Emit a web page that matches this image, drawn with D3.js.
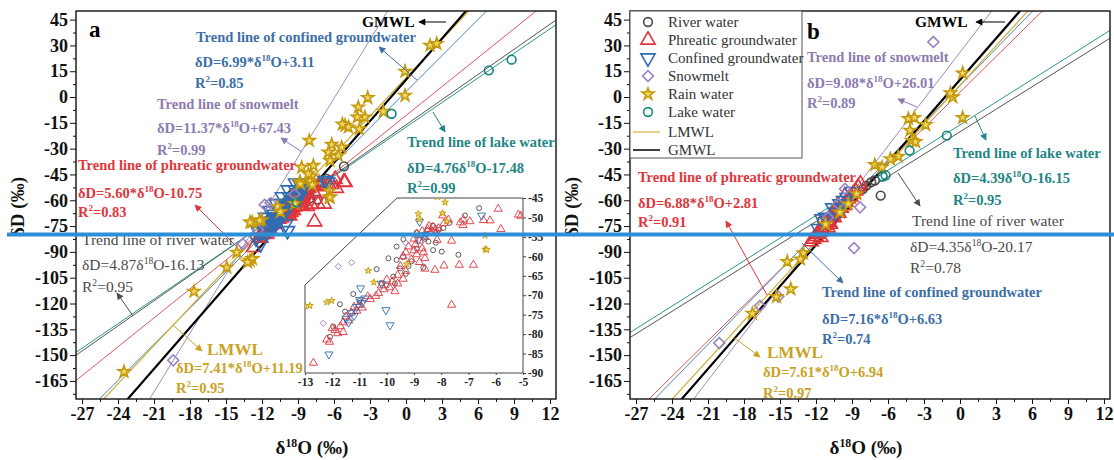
<!DOCTYPE html>
<html>
<head>
<meta charset="utf-8">
<script src="https://d3js.org/d3.v7.min.js"></script>
<style>
body { margin:0; background:#fff; }
svg text { font-family: "Liberation Serif", "Times New Roman", serif; }
</style>
</head>
<body>
<svg id="chart" width="1114" height="460"></svg>
<script>
// ---- tick labels
var xTickValues = [-27, -24, -21, -18, -15, -12, -9, -6, -3, 0, 3, 6, 9, 12];
var yTickValues = [45, 30, 15, 0, -15, -30, -45, -60, -75, -90, -105, -120, -135, -150, -165];
var insetXTicks = [-13, -12, -11, -10, -9, -8, -7, -6, -5];
var insetYTicks = [-45, -50, -55, -60, -65, -70, -75, -80, -85, -90];

// ---- legend
var legendNames = ["River water", "Phreatic groundwater", "Confined groundwater", "Snowmelt", "Rain water", "Lake water", "LMWL", "GMWL"];

// ---- trend lines: river, phreatic, confined, snowmelt, LMWL, lake, GMWL
var slopesA = [4.87, 5.60, 6.99, 11.37, 7.41, 4.76, 8];
var interceptsA = [-16.13, -10.75, 3.11, 67.43, 11.19, -17.48, 10];
var slopesB = [4.35, 6.88, 7.16, 9.08, 7.61, 4.39, 8];
var interceptsB = [-20.17, 2.81, 6.63, 26.01, 6.94, -16.15, 10];

// ---- panel a samples [d18O, dD]
var riverA = [[-6.61,-47.6],[-7.13,-49.5],[-7.7,-51.4],[-8.31,-52.1],[-7.92,-52.7],[-8.1,-53.2],[-8.9,-53.9],[-8.47,-56.2],
  [-8.2,-56.5],[-7.98,-58.8],[-8.3,-58.4],[-7.37,-59.6],[-9.39,-55.6],[-9.64,-57.5],[-9.94,-60.5],[-9.64,-60.9],[-9.51,-63.1],
  [-9.4,-60.2],[-10.37,-63.3],[-8.66,-62.9],[-9.09,-61.3],[-9.76,-65.2],[-10.19,-66.9],[-11.23,-69.7],[-11.72,-72.3],[-11.0,-71.5],
  [-11.96,-78.1],[-12.08,-80.7],[-11.53,-74.2],[-10.0,-67.5],[-9.7,-67],[-9.3,-64.5],[-9.2,-62.5],[-8.9,-58],[-8.6,-55.5],
  [-8.2,-54],[-8.5,-53.3],[-5.17,-40.3]];
var phreaticA = [[-8.3,-52.5],[-8.5,-53],[-8.7,-53.5],[-8.9,-54.2],[-8.4,-54],[-8.2,-53.2],[-8.6,-55],[-9.0,-55.5],[-8.8,-56],
  [-8.1,-52.8],[-8.45,-52.2],[-8.15,-55.8],[-7.74,-50.6],[-7.19,-50.6],[-7.9,-51.5],[-7.95,-49.5],[-7.2,-52],[-6.95,-51],
  [-6.21,-50.8],[-6.45,-50.7],[-5.91,-47.8],[-5.17,-49.3],[-5.81,-53],[-7.62,-56],[-6.82,-62.2],[-7.34,-62.2],[-7.9,-62.4],
  [-8.23,-63.5],[-8.6,-63.2],[-7.62,-72.5],[-7.3,-51.3],[-9.2,-57.5],[-9.0,-58.5],[-8.9,-59.5],[-9.3,-59],[-8.7,-58],
  [-8.6,-60.5],[-9.1,-60.8],[-8.8,-61.5],[-9.4,-60],[-8.95,-57],[-8.65,-59],[-9.5,-62.5],[-9.3,-63.8],[-9.6,-64.8],
  [-10.0,-66],[-9.8,-66.5],[-10.2,-67.5],[-9.9,-68],[-10.1,-68.5],[-9.6,-67],[-9.4,-65.8],[-10.3,-69.5],[-9.7,-69],
  [-10.4,-70.2],[-10.7,-70.3],[-10.6,-71],[-11.0,-72.5],[-11.2,-73],[-11.3,-74.5],[-11.5,-75.5],[-11.4,-76.5],[-11.6,-77],
  [-11.1,-74],[-10.9,-73.2],[-11.7,-78],[-11.9,-79],[-11.8,-79.8],[-12.0,-78.5],[-11.6,-79.5],[-12.2,-81.4],[-12.1,-82],
  [-12.69,-87.4],[-5.08,-49.6]];
var confinedA = [[-6.52,-49.5],[-8.8,-51.1],[-10.96,-68.2],[-10.03,-73.8],[-9.88,-77.7],[-12.12,-85.2],[-11.3,-74.5],
  [-11.1,-73],[-10.9,-72],[-11.0,-71.2],[-11.5,-76],[-11.4,-77],[-10.8,-70.8],[-8.84,-55.7],[-8.6,-54.5],[-10.2,-67],[-11.2,-75.3]];
// dense blue band seen only in the main plot of panel a
var confinedBandA = [[-12.3,-78],[-11.8,-78],[-12.0,-74],[-11.4,-74],[-10.9,-74],[-11.7,-70],[-11.0,-70],[-10.4,-70],
  [-11.3,-66],[-10.6,-66],[-10.0,-66],[-10.8,-62],[-10.2,-62],[-9.6,-62],[-10.3,-58],[-9.7,-58],[-9.2,-58],
  [-9.8,-54],[-9.2,-54],[-8.7,-54],[-9.2,-50],[-8.6,-50],[-12.5,-82],[-6.75,-48.6]];
var snowA = [[-11.78,-62.6],[-11.29,-61.6],[-12.33,-77.2],[-13.6,-85.4],[-19.4,-153],[-9.3,-56.5]];
var rainA = [[-7.86,-46.1],[-8.84,-49.1],[-7.95,-48.9],[-10.68,-63.7],[-12.02,-71.4],[-12.82,-72.7],[-6.39,-54.6],
  [-6.39,-58.2],[-10.47,-66.7],[-9.27,-62],[2.0,30],[2.56,31],[-0.08,14.9],[-0.08,0.9],[-3.19,-0.4],[-3.97,-5.9],
  [-3.42,-11.7],[-4.06,-11.7],[-1.89,-8.4],[-5.08,-16.5],[-4.8,-17.5],[-5.3,-15.8],[-3.89,-18.5],[-8.06,-25.3],[-6.19,-27.6],
  [-5.36,-29.2],[-6.47,-32.1],[-5.64,-34],[-6.33,-36.9],[-7.72,-39.8],[-8.69,-40.8],[-8.14,-44.7],[-6.33,-58.3],
  [-7.8,-51],[-8.8,-50.5],[-13.0,-72.8],[-12.2,-71.8],[-14.1,-90.3],[-14.94,-99],[-17.67,-113],[-23.5,-159.6],
  [-13.0,-95],[-12.8,-94],[-13.2,-96]];
var lakeA = [[8.8,21.7],[6.9,15.5],[-1.2,-9.7],[-9.1,-61.2]];

// ---- panel b samples
var riverB = [[-6.61,-57.3],[-7.4,-49.5],[-7.1,-48.5],[-7.8,-51.5],[-8.1,-53.5],[-11.5,-71.9],[-10.8,-69],[-9.8,-63]];
var phreaticB = [[-12.4,-84],[-12.2,-82.5],[-12.0,-81],[-11.9,-79.6],[-11.7,-78.5],[-11.6,-81.6],[-11.4,-75.7],[-11.2,-74.5],
  [-11.1,-71.9],[-10.9,-72.8],[-10.8,-73.8],[-10.7,-68.9],[-10.5,-70],[-10.3,-66],[-10.1,-67.5],[-9.9,-64.5],[-9.7,-63.1],
  [-9.5,-61],[-9.3,-59.2],[-9.1,-58],[-8.9,-56.3],[-8.7,-54.5],[-8.5,-52.4],[-8.3,-50.5],[-9.6,-57.5],[-10.2,-63],[-11.0,-76]];
var confinedB = [[-11.5,-70.9],[-11.2,-70],[-10.4,-67],[-10.0,-62.1],[-9.7,-60.2],[-9.9,-65],[-10.6,-64.5],[-9.4,-58.5],[-11.8,-76.5],[-9.0,-55]];
var snowB = [[-2.22,32],[-9.58,-53.4],[-8.33,-64.1],[-8.83,-87.8],[-10.14,-62.1],[-20.06,-143],[-16.67,-121.3],[-15.14,-116],[-11.0,-70]];
var rainB = [[0.22,13.9],[-0.6,0],[-0.8,2.3],[-4.3,-12.6],[-3.8,-12],[-2.86,-16.1],[0.22,-12],[-4.17,-19.4],[-4.03,-25.3],
  [-3.7,-26],[-5.14,-34.5],[-5.8,-36],[-7.1,-39.4],[-6.5,-40.8],[-13.06,-90.7],[-13.3,-94.2],[-14.4,-95.7],[-14.1,-111.6],
  [-15.3,-116.1],[-17.3,-125.8],[-9.31,-62.1],[-10.0,-67],[-8.61,-56.3],[-11.2,-74]];
var lakeB = [[-1.1,-22.4],[-4.2,-31.1],[-6.44,-46.2],[-6.2,-45.5]];

// ---- styles
var sty = {
  river:    {type: d3.symbolCircle,   rot: 0,   k: 0.75, fill: "none", stroke: "#4a4a4a"},
  phreatic: {type: d3.symbolTriangle, rot: 0,   k: 1.1,  fill: "none", stroke: "#e2343c"},
  confined: {type: d3.symbolTriangle, rot: 180, k: 1.1,  fill: "none", stroke: "#2f6db3"},
  snow:     {type: d3.symbolSquare,   rot: 45,  k: 0.75, fill: "none", stroke: "#9b82c2"},
  rain:     {type: d3.symbolStar,     rot: 0,   k: 0.55, fill: "#f3d866", stroke: "#c49a0c"},
  lake:     {type: d3.symbolCircle,   rot: 0,   k: 0.75, fill: "none", stroke: "#17877d"}
};
var trendColors = ["#555555", "#e0575b", "#4a86c0", "#9c8cc0", "#cfae32", "#2a968c", "#000000"];
var trendWidths = [1, 1, 1, 1, 1.2, 1, 2.2];
var cConfT = "#3d6fa6", cSnowT = "#8e7bb0", cPhrT = "#e0363c", cLakeT = "#1f8685", cRivT = "#4a4a4a", cLT = "#c9a224";

var svg = d3.select("#chart");
var defs = svg.append("defs");

function marker(id, color) {
  defs.append("marker").attr("id", id)
    .attr("viewBox", "0 0 10 10").attr("refX", 9).attr("refY", 5)
    .attr("markerWidth", 8).attr("markerHeight", 7)
    .attr("markerUnits", "userSpaceOnUse").attr("orient", "auto")
    .append("path").attr("d", "M0,0 L10,5 L0,10 Z").attr("fill", color);
}
var arrowCols = {k: "#000", b: cConfT, p: cSnowT, r: cPhrT, t: cLakeT, g: cRivT, y: cLT};
Object.keys(arrowCols).forEach(function(k) { marker("ar_" + k, arrowCols[k]); });

function richText(g, str, x, y, fs, color, weight, anchor) {
  var t = g.append("text").attr("x", x).attr("y", y).attr("font-size", fs)
    .attr("fill", color).attr("font-weight", weight || "bold")
    .attr("text-anchor", anchor || "start");
  var parts = str.split(/\^(\d+)/);
  var sh = fs * 0.38;
  parts.forEach(function(p, i) {
    if (i % 2 === 1) {
      t.append("tspan").attr("dy", -sh).attr("font-size", fs * 0.62).text(p);
    } else if (p) {
      var s = t.append("tspan").text(p);
      if (i > 0) s.attr("dy", sh);
    }
  });
  return t;
}

function arrow(g, x1, y1, x2, y2, key) {
  g.append("line").attr("x1", x1).attr("y1", y1).attr("x2", x2).attr("y2", y2)
    .attr("stroke", arrowCols[key]).attr("stroke-width", 1)
    .attr("marker-end", "url(#ar_" + key + ")");
}

function drawPoints(g, pts, s, x, y, size, sw) {
  g.selectAll(null).data(pts).enter().append("path")
    .attr("d", d3.symbol().type(s.type).size(size * s.k))
    .attr("transform", function(d) { return "translate(" + x(d[0]) + "," + y(d[1]) + ") rotate(" + s.rot + ")"; })
    .attr("fill", s.fill).attr("stroke", s.stroke).attr("stroke-width", sw);
}

function panel(id, x0, x1, slopes, intercepts, series) {
  var x = d3.scaleLinear().domain([-27.5, 12.5]).range([x0, x1]);
  var y = d3.scaleLinear().domain([-175.5, 50]).range([399, 11]);
  var g = svg.append("g");

  defs.append("clipPath").attr("id", "clip" + id).append("rect")
    .attr("x", x0).attr("y", 11).attr("width", x1 - x0).attr("height", 388);

  var plot = g.append("g").attr("clip-path", "url(#clip" + id + ")");
  // trend lines
  var order = [0, 5, 1, 2, 3, 4, 6];
  order.forEach(function(i) {
    var xs = [-27.5, 12.5];
    plot.append("line")
      .attr("x1", x(xs[0])).attr("y1", y(slopes[i] * xs[0] + intercepts[i]))
      .attr("x2", x(xs[1])).attr("y2", y(slopes[i] * xs[1] + intercepts[i]))
      .attr("stroke", trendColors[i]).attr("stroke-width", trendWidths[i]);
  });
  series.forEach(function(sr) { drawPoints(plot, sr[0], sr[1], x, y, 80, 1.6); });

  // axes
  var yMinor = d3.range(-172.5, 50, 7.5).filter(function(v) { return Math.abs(v % 15) > 0.1; });
  var xMinor = d3.range(-25.5, 12.5, 3);
  g.append("g").attr("transform", "translate(" + x0 + ",0)")
    .call(d3.axisLeft(y).tickValues(yMinor).tickSize(3).tickFormat(""))
    .call(function(a) { a.select(".domain").remove(); });
  g.append("g").attr("transform", "translate(0,399)")
    .call(d3.axisBottom(x).tickValues(xMinor).tickSize(3).tickFormat(""))
    .call(function(a) { a.select(".domain").remove(); });
  var ya = g.append("g").attr("transform", "translate(" + x0 + ",0)")
    .call(d3.axisLeft(y).tickValues(yTickValues).tickSize(6).tickPadding(2).tickFormat(function(d) { return String(d); }));
  var xa = g.append("g").attr("transform", "translate(0,399)")
    .call(d3.axisBottom(x).tickValues(xTickValues).tickSize(5).tickPadding(3).tickFormat(function(d) { return String(d); }));
  [ya, xa].forEach(function(a) {
    a.selectAll("text").attr("font-family", "Liberation Serif").attr("font-size", 18)
      .attr("font-weight", "bold").attr("fill", "#111");
    a.selectAll("line").attr("stroke", "#111");
    a.select(".domain").remove();
  });
  g.selectAll(".tick line").attr("stroke", "#111");
  g.append("rect").attr("x", x0).attr("y", 11).attr("width", x1 - x0).attr("height", 388)
    .attr("fill", "none").attr("stroke", "#111").attr("stroke-width", 1.4);

  // axis titles
  richText(g, "δD (‰)", 0, 0, 19, "#111", "bold", "middle")
    .attr("transform", "translate(" + (x0 - 52) + ",207) rotate(-90)");
  richText(g, "δ^18O (‰)", x(-7.5) - 4, 454, 19, "#111", "bold", "middle");
  return {g: g, x: x, y: y};
}

// ---------- panel a
var pa = panel("a", 76, 556, slopesA, interceptsA, [
  [riverA, sty.river], [phreaticA, sty.phreatic], [confinedA, sty.confined], [confinedBandA, sty.confined],
  [snowA, sty.snow], [rainA, sty.rain], [lakeA, sty.lake]]);
var ga = pa.g;
ga.append("text").attr("x", 89).attr("y", 37).attr("font-size", 23).attr("font-weight", "bold").text("a");

richText(ga, "GMWL", 362, 27, 15.5, "#000");
arrow(ga, 446, 22, 419, 22, "k");
richText(ga, "Trend line of confined groundwater", 196, 42, 14.5, cConfT);
richText(ga, "δD=6.99*δ^18O+3.11", 195, 67, 14.5, cConfT);
richText(ga, "R^2=0.85", 195, 88, 14.5, cConfT);
arrow(ga, 417, 80, 379, 47, "b");
richText(ga, "Trend line of snowmelt", 157, 109, 14.5, cSnowT);
richText(ga, "δD=11.37*δ^18O+67.43", 157, 133, 14.5, cSnowT);
richText(ga, "R^2=0.99", 157, 155, 14.5, cSnowT);
arrow(ga, 302, 152, 281, 138, "p");
richText(ga, "Trend line of phreatic groundwater", 78, 170, 14.5, cPhrT);
richText(ga, "δD=5.60*δ^18O-10.75", 78, 198, 14.5, cPhrT);
richText(ga, "R^2=0.83", 78, 217, 14.5, cPhrT);
arrow(ga, 237, 247, 195, 205, "r");
richText(ga, "Trend line of lake water", 407, 147, 14.5, cLakeT);
richText(ga, "δD=4.76δ^18O-17.48", 407, 173, 14.5, cLakeT);
richText(ga, "R^2=0.99", 407, 193, 14.5, cLakeT);
arrow(ga, 433, 112, 445, 132, "t");
richText(ga, "Trend line of river water", 82, 245, 15.5, cRivT, "normal");
richText(ga, "δD=4.87δ^18O-16.13", 82, 270, 15.5, cRivT, "normal");
richText(ga, "R^2=0.95", 82, 292, 15.5, cRivT, "normal");
arrow(ga, 133, 316, 117, 293, "g");
richText(ga, "LMWL", 207, 355, 17, cLT);
richText(ga, "δD=7.41*δ^18O+11.19", 176, 373, 14.5, cLT);
richText(ga, "R^2=0.95", 176, 393, 14.5, cLT);
arrow(ga, 173, 325, 202, 351, "y");

// inset of panel a
var ix = d3.scaleLinear().domain([-13, -5]).range([305, 523]);
var iy = d3.scaleLinear().domain([-90, -45]).range([373, 198]);
var ins = ga.append("g");
ins.append("path").attr("d", "M305,285 L305,373 L523,373 L523,198 L397,198 Z")
  .attr("fill", "#fff").attr("stroke", "#444").attr("stroke-width", 1);
defs.append("clipPath").attr("id", "clipIn").append("rect").attr("x", 305).attr("y", 198).attr("width", 218).attr("height", 175);
var insPlot = ins.append("g").attr("clip-path", "url(#clipIn)");
[[riverA, sty.river], [phreaticA, sty.phreatic], [confinedA, sty.confined], [snowA, sty.snow], [rainA, sty.rain]]
  .forEach(function(sr) { drawPoints(insPlot, sr[0], sr[1], ix, iy, 26, 0.9); });
var iax = ins.append("g").attr("transform", "translate(0,373)")
  .call(d3.axisBottom(ix).tickValues(insetXTicks).tickSize(2).tickPadding(3).tickFormat(function(d) { return String(d); }));
var iay = ins.append("g").attr("transform", "translate(523,0)")
  .call(d3.axisRight(iy).tickValues(insetYTicks).tickSize(3).tickPadding(2).tickFormat(function(d) { return String(d); }));
[iax, iay].forEach(function(a) {
  a.select(".domain").remove();
  a.selectAll("text").attr("font-family", "Liberation Serif").attr("font-size", 11.5)
    .attr("font-weight", "bold").attr("fill", "#222");
  a.selectAll("line").attr("stroke", "#444");
});

// ---------- panel b
var pb = panel("b", 630, 1110, slopesB, interceptsB, [
  [riverB, sty.river], [phreaticB, sty.phreatic], [confinedB, sty.confined],
  [snowB, sty.snow], [rainB, sty.rain], [lakeB, sty.lake]]);
var gb = pb.g;

// legend
var lg = gb.append("g");
lg.append("rect").attr("x", 630).attr("y", 11).attr("width", 172).attr("height", 147)
  .attr("fill", "#fff").attr("stroke", "#555").attr("stroke-width", 1);
var legStyles = [sty.river, sty.phreatic, sty.confined, sty.snow, sty.rain, sty.lake];
var legY = [22, 40, 58, 76, 94, 112, 132, 150];
legendNames.forEach(function(n, i) {
  if (i < 6) {
    drawPoints(lg, [[648, legY[i]]], legStyles[i], function(v) { return v; }, function(v) { return v; }, 80, 1.6);
  } else {
    lg.append("line").attr("x1", 633).attr("x2", 660).attr("y1", legY[i]).attr("y2", legY[i])
      .attr("stroke", i === 6 ? "#d8bc4a" : "#000").attr("stroke-width", i === 6 ? 1.3 : 1.5);
  }
  lg.append("text").attr("x", 668).attr("y", legY[i] + 5).attr("font-size", 15)
    .attr("fill", "#333").text(n);
});

gb.append("text").attr("x", 807).attr("y", 39).attr("font-size", 23).attr("font-weight", "bold").text("b");
richText(gb, "GMWL", 915, 27, 15.5, "#000");
arrow(gb, 1005, 22, 976, 22, "k");
richText(gb, "Trend line of snowmelt", 807, 62, 14.5, cSnowT);
richText(gb, "δD=9.08*δ^18O+26.01", 807, 88, 14.5, cSnowT);
richText(gb, "R^2=0.89", 807, 108, 14.5, cSnowT);
arrow(gb, 917, 107, 898, 99, "p");
richText(gb, "Trend line of phreatic groundwater", 638, 182, 14.5, cPhrT);
richText(gb, "δD=6.88*δ^18O+2.81", 638, 208, 14.5, cPhrT);
richText(gb, "R^2=0.91", 638, 227, 14.5, cPhrT);
arrow(gb, 767, 295, 726, 221, "r");
richText(gb, "Trend line of lake water", 953, 158, 14.5, cLakeT);
richText(gb, "δD=4.39δ^18O-16.15", 953, 183, 14.5, cLakeT);
richText(gb, "R^2=0.95", 953, 205, 14.5, cLakeT);
arrow(gb, 975, 116, 986, 140, "t");
richText(gb, "Trend line of river water", 912, 226, 15.5, cRivT, "normal");
richText(gb, "δD=4.35δ^18O-20.17", 910, 252, 15.5, cRivT, "normal");
richText(gb, "R^2=0.78", 910, 273, 15.5, cRivT, "normal");
arrow(gb, 898, 173, 920, 206, "g");
richText(gb, "Trend line of confined groundwater", 822, 297, 14.5, cConfT);
richText(gb, "δD=7.16*δ^18O+6.63", 822, 324, 14.5, cConfT);
richText(gb, "R^2=0.74", 822, 344, 14.5, cConfT);
arrow(gb, 802, 243, 843, 283, "b");
richText(gb, "LMWL", 767, 358, 17, cLT);
richText(gb, "δD=7.61*δ^18O+6.94", 763, 377, 14.5, cLT);
richText(gb, "R^2=0.97", 763, 398, 14.5, cLT);
arrow(gb, 733, 337, 760, 357, "y");

// blue rule that runs across the whole image
svg.append("line").attr("x1", 7).attr("x2", 1114).attr("y1", 234.5).attr("y2", 234.5)
  .attr("stroke", "#2d8fd5").attr("stroke-width", 4);
</script>
</body>
</html>
